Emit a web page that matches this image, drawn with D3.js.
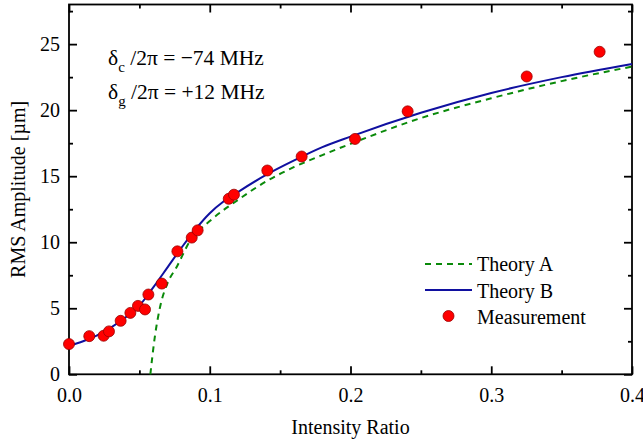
<html>
<head>
  <script src="https://d3js.org/d3.v7.min.js"></script>
  <style>
  body { margin: 0; background: #fff; }
  text { font-family: "Liberation Serif", "Times New Roman", serif; fill: #000; }
  .axis path { display: none; }
  .axis line { stroke: #000; stroke-width: 1.8px; }
  .axis text { font-size: 20px; font-family: "Liberation Serif", serif; }
  </style>
</head>
<body>
<svg id="chart" width="643" height="445"></svg>
<script>

// measured points
const measX = [0, 0.0144, 0.0246, 0.0284, 0.0367, 0.0436, 0.049, 0.054, 0.0564, 0.0659,
               0.077, 0.0872, 0.0914, 0.1135, 0.1172, 0.1409, 0.1653, 0.2032, 0.2406, 0.3252, 0.377];
const measY = [2.29, 2.89, 2.92, 3.25, 4.05, 4.65, 5.18, 4.91, 6.04, 6.87,
               9.31, 10.35, 10.9, 13.29, 13.6, 15.43, 16.49, 17.82, 19.91, 22.55, 24.42];

// theory A (dashed green)
const theoryAX = [0.0578, 0.061, 0.0647, 0.07, 0.0765, 0.086, 0.1, 0.12, 0.14, 0.16, 0.18, 0.2, 0.25, 0.3, 0.35, 0.4];
const theoryAY = [0, 2.85, 5.1, 6.9, 8.13, 10.1, 11.6, 13.2, 14.6, 15.7, 16.6, 17.45, 19.4, 20.9, 22.2, 23.3];

// theory B (solid blue)
const theoryBX = [0, 0.01, 0.02, 0.03, 0.04, 0.05, 0.06, 0.07, 0.08, 0.09, 0.1, 0.11, 0.12, 0.14, 0.16, 0.18, 0.2, 0.25, 0.3, 0.35, 0.4];
const theoryBY = [2.15, 2.5, 2.95, 3.55, 4.3, 5.2, 6.6, 8.1, 9.6, 11.0, 12.2, 13.1, 13.8, 15.1, 16.2, 17.2, 18.0, 19.8, 21.3, 22.5, 23.5];

const xMajor = [0, 0.1, 0.2, 0.3, 0.4];
const xMinor = [0.05, 0.15, 0.25, 0.35];
const yMajor = [0, 5, 10, 15, 20, 25];
const yMinor = [2.5, 7.5, 12.5, 17.5, 22.5, 27.5];

const svg = d3.select("#chart");
const plotL = 69, plotR = 632, plotT = 4.5, plotB = 374.3;

const x = d3.scaleLinear().domain([0, 0.4]).range([plotL, plotR]);
const y = d3.scaleLinear().domain([0, 28]).range([plotB, plotT]);

// axes, ticks pointing inward
svg.append("g").attr("class", "axis").attr("transform", "translate(0," + plotB + ")")
   .call(d3.axisBottom(x).tickValues(xMajor).tickSize(-8).tickPadding(14).tickFormat(d3.format(".1f")));
svg.append("g").attr("class", "axis").attr("transform", "translate(0," + plotB + ")")
   .call(d3.axisBottom(x).tickValues(xMinor).tickSize(-4).tickFormat(""));
svg.append("g").attr("class", "axis").attr("transform", "translate(0," + plotT + ")")
   .call(d3.axisTop(x).tickValues(xMajor).tickSize(-8).tickFormat(""));
svg.append("g").attr("class", "axis").attr("transform", "translate(0," + plotT + ")")
   .call(d3.axisTop(x).tickValues(xMinor).tickSize(-4).tickFormat(""));

svg.append("g").attr("class", "axis").attr("transform", "translate(" + plotL + ",0)")
   .call(d3.axisLeft(y).tickValues(yMajor).tickSize(-8).tickPadding(9).tickFormat(d3.format("d")));
svg.append("g").attr("class", "axis").attr("transform", "translate(" + plotL + ",0)")
   .call(d3.axisLeft(y).tickValues(yMinor).tickSize(-4).tickFormat(""));
svg.append("g").attr("class", "axis").attr("transform", "translate(" + plotR + ",0)")
   .call(d3.axisRight(y).tickValues(yMajor).tickSize(-8).tickFormat(""));
svg.append("g").attr("class", "axis").attr("transform", "translate(" + plotR + ",0)")
   .call(d3.axisRight(y).tickValues(yMinor).tickSize(-4).tickFormat(""));

svg.append("rect")
   .attr("x", plotL).attr("y", plotT)
   .attr("width", plotR - plotL).attr("height", plotB - plotT)
   .attr("fill", "none").attr("stroke", "#000").attr("stroke-width", 1.8);

// curves
const line = d3.line().x(d => x(d[0])).y(d => y(d[1])).curve(d3.curveMonotoneX);

svg.append("path")
   .datum(theoryAX.map((v, i) => [v, theoryAY[i]]))
   .attr("d", line)
   .attr("fill", "none").attr("stroke", "#0a8a0a").attr("stroke-width", 2)
   .attr("stroke-dasharray", "6,5");

svg.append("path")
   .datum(theoryBX.map((v, i) => [v, theoryBY[i]]))
   .attr("d", line)
   .attr("fill", "none").attr("stroke", "#1010a0").attr("stroke-width", 2);

svg.selectAll("circle.meas").data(measX.map((v, i) => [v, measY[i]]))
   .join("circle")
   .attr("class", "meas")
   .attr("cx", d => x(d[0]))
   .attr("cy", d => y(d[1]))
   .attr("r", 5.5)
   .attr("fill", "#ff0000")
   .attr("stroke", "#990000")
   .attr("stroke-width", 0.8);

// annotation
const ann = [["c", "\u2212" + "74 MHz", 65], ["g", "+12 MHz", 99]];
ann.forEach(a => {
  const t = svg.append("text").attr("x", 108).attr("y", a[2]).style("font-size", "21.5px");
  t.append("tspan").text("\u03b4");
  t.append("tspan").attr("dy", 7).style("font-size", "15px").text(a[0]);
  t.append("tspan").attr("dy", -7).text(" /2\u03c0 = " + a[1]);
});

// legend
svg.append("line").attr("x1", 425).attr("x2", 472).attr("y1", 264).attr("y2", 264)
   .attr("stroke", "#0a8a0a").attr("stroke-width", 2).attr("stroke-dasharray", "6,5");
svg.append("line").attr("x1", 425).attr("x2", 472).attr("y1", 290).attr("y2", 290)
   .attr("stroke", "#1010a0").attr("stroke-width", 2);
svg.append("circle").attr("cx", 448.5).attr("cy", 316).attr("r", 5.5)
   .attr("fill", "#ff0000").attr("stroke", "#990000").attr("stroke-width", 0.8);

const legendText = ["Theory A", "Theory B", "Measurement"];
legendText.forEach((s, i) => {
  svg.append("text").attr("x", 477).attr("y", 271 + i * 26.5)
     .style("font-size", "20px").text(s);
});

// axis titles
svg.append("text")
   .attr("x", (plotL + plotR) / 2).attr("y", 434)
   .attr("text-anchor", "middle")
   .style("font-size", "20px")
   .text("Intensity Ratio");

svg.append("text")
   .attr("transform", "translate(25," + (plotT + plotB) / 2 + ") rotate(-90)")
   .attr("text-anchor", "middle")
   .style("font-size", "20px")
   .text("RMS Amplitude [\u00b5m]");

</script>
</body>
</html>
